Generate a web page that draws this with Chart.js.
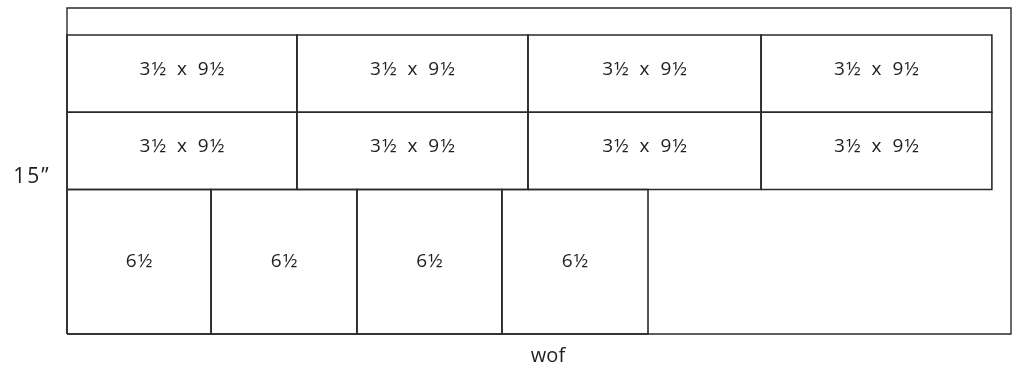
<html>
<head>
<title>Cutting diagram</title>
<script src="https://cdn.jsdelivr.net/npm/chart.js@4.4.1/dist/chart.umd.min.js"></script>
<style>
    body { margin: 0; background: #ffffff; }
    canvas { display: block; }
</style>
</head>
<body>
<canvas id="cutChart" width="1019" height="373"></canvas>
<script>
    // fabric piece, in diagram units (width of fabric x height)
    const fabricWidth = 42;
    const fabricHeight = 15;
    const widthLabel = "wof";
    const heightLabel = "15\u201d";

    // cut pieces: two rows of strips, then a row of squares
    const pieceLabels = [
        "3½ x 9½", "3½ x 9½", "3½ x 9½", "3½ x 9½",
        "3½ x 9½", "3½ x 9½", "3½ x 9½", "3½ x 9½",
        "6½", "6½", "6½", "6½"
    ];
    const pieceLeft   = [0, 10.23, 20.51, 30.88, 0, 10.23, 20.51, 30.88, 0, 6.41, 12.9, 19.35];
    const pieceRight  = [10.23, 20.51, 30.88, 41.15, 10.23, 20.51, 30.88, 41.15, 6.41, 12.9, 19.35, 25.85];
    const pieceBottom = [10.2, 10.2, 10.2, 10.2, 6.65, 6.65, 6.65, 6.65, 0, 0, 0, 0];
    const pieceTop    = [13.76, 13.76, 13.76, 13.76, 10.2, 10.2, 10.2, 10.2, 6.65, 6.65, 6.65, 6.65];

    const lineColor = "#2a2a2a";
    const textColor = "#1e1e1e";

    function rectPoints(x0, x1, y0, y1) {
        return [
            {x: x0, y: y0}, {x: x1, y: y0}, {x: x1, y: y1}, {x: x0, y: y1}, {x: x0, y: y0}
        ];
    }

    let datasets = [];
    datasets.push({
        label: "fabric",
        data: rectPoints(0, fabricWidth, 0, fabricHeight),
        borderColor: lineColor,
        borderWidth: 1.4,
        pointRadius: 0,
        fill: false,
        tension: 0,
        clip: false
    });
    for (let i = 0; i < pieceLabels.length; i++) {
        datasets.push({
            label: pieceLabels[i],
            data: rectPoints(pieceLeft[i], pieceRight[i], pieceBottom[i], pieceTop[i]),
            borderColor: lineColor,
            borderWidth: 1.6,
            pointRadius: 0,
            fill: false,
            tension: 0,
            clip: false
        });
    }

    // writes piece sizes and the two edge labels
    const labelPlugin = {
        id: "pieceText",
        afterDatasetsDraw(chart) {
            let ctx = chart.ctx;
            let xs = chart.scales.x;
            let ys = chart.scales.y;
            ctx.save();
            ctx.fillStyle = textColor;
            ctx.textAlign = "center";
            ctx.textBaseline = "middle";
            ctx.font = "19px 'Open Sans'";
            ctx.letterSpacing = "1px";
            ctx.wordSpacing = "4px";
            for (let i = 0; i < pieceLabels.length; i++) {
                let cx = xs.getPixelForValue((pieceLeft[i] + pieceRight[i]) / 2) + 0.5;
                let cy = ys.getPixelForValue((pieceBottom[i] + pieceTop[i]) / 2);
                if (pieceBottom[i] > 0) cy -= 4; // strips have text sitting a bit high
                ctx.fillText(pieceLabels[i], cx, cy);
            }
            ctx.wordSpacing = "0px";
            ctx.letterSpacing = "2px";
            ctx.font = "21px 'Open Sans'";
            ctx.fillText(heightLabel, 32, ys.getPixelForValue(fabricHeight / 2) + 6);
            ctx.letterSpacing = "0px";
            ctx.font = "20px 'Open Sans'";
            ctx.fillText(widthLabel, xs.getPixelForValue(fabricWidth / 2) + 9, chart.chartArea.bottom + 22);
            ctx.restore();
        }
    };

    new Chart(document.getElementById("cutChart"), {
        type: "line",
        data: { datasets: datasets },
        options: {
            responsive: false,
            animation: false,
            layout: { padding: { left: 67, right: 8, top: 8, bottom: 39 } },
            plugins: { legend: { display: false }, tooltip: { enabled: false } },
            scales: {
                x: { type: "linear", min: 0, max: fabricWidth, display: false },
                y: { type: "linear", min: 0, max: fabricHeight, display: false }
            }
        },
        plugins: [labelPlugin]
    });
</script>
</body>
</html>
